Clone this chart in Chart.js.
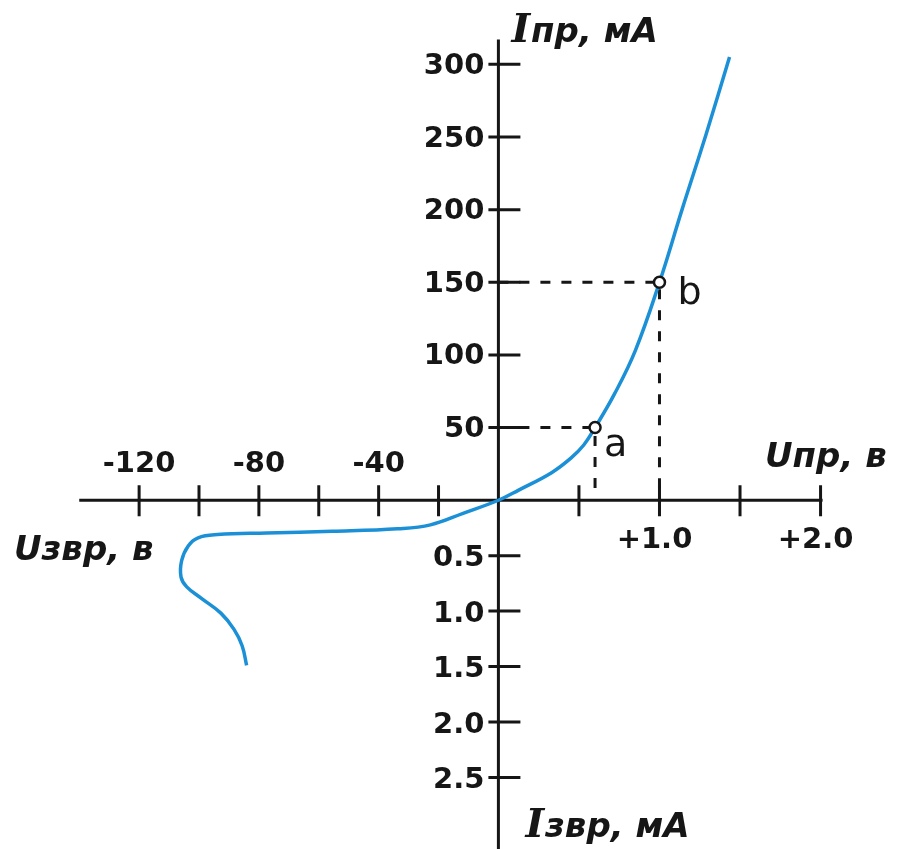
<!DOCTYPE html>
<html>
<head>
<meta charset="utf-8">
<script src="https://cdn.jsdelivr.net/npm/chart.js@4.4.1/dist/chart.umd.min.js"></script>
<style>
  html, body { margin: 0; padding: 0; background: #fff; }
  canvas { display: block; }
</style>
</head>
<body>
<canvas id="diodeChart" width="898" height="849"></canvas>
<script>
// I-V curve of the diode, from the end of the reverse branch up to the top
var voltage = [-84.1, -85.6, -88.3, -92.7, -99.2, -104.1, -106, -105.8, -103.6, -100.3,
  -93.8, -77.4, -55.5, -33.6, -22.7, -11.8, 0, 0.126, 0.33, 0.45, 0.53, 0.6,
  0.72, 0.85, 1.0, 1.14, 1.29, 1.435];
var current = [-1.489, -1.312, -1.165, -1.018, -0.885, -0.781, -0.693, -0.545, -0.412, -0.339,
  -0.31, -0.295, -0.28, -0.257, -0.222, -0.118, 0, 7, 19, 29, 38, 50,
  73, 103, 150, 200, 252, 305];

// marked points a and b
var markNames = ["a", "b"];
var markVoltage = [0.6, 1.0];
var markCurrent = [50, 150];

// axis ticks (reverse quadrants use their own scale)
var fwdVoltTicks = [0.5, 1.0, 1.5, 2.0];
var fwdVoltLabels = ["", "+1.0", "", "+2.0"];
var revVoltTicks = [-120, -100, -80, -60, -40, -20];
var revVoltLabels = ["-120", "", "-80", "", "-40", ""];
var fwdCurrTicks = [50, 100, 150, 200, 250, 300];
var fwdCurrLabels = ["50", "100", "150", "200", "250", "300"];
var revCurrTicks = [0.5, 1.0, 1.5, 2.0, 2.5];
var revCurrLabels = ["0.5", "1.0", "1.5", "2.0", "2.5"];

// one reverse volt / reverse mA expressed in forward units
var REV_V = 53.8;
var REV_I = 76.3;

function toX(v) { return v < 0 ? v / REV_V : v; }
function toY(i) { return i < 0 ? i * REV_I : i; }

var curvePts = voltage.map(function (v, k) { return { x: toX(v), y: toY(current[k]) }; });
var markPts = markVoltage.map(function (v, k) { return { x: toX(v), y: toY(markCurrent[k]) }; });

var INK = "#161616";
var SANS_BOLD = "bold 29px 'DejaVu Sans'";
var TITLE = "bold italic 34px 'DejaVu Sans'";

function drawTitle(ctx, x, y, first, rest) {
  var w = 0;
  if (first) {
    ctx.font = "bold italic 40px 'DejaVu Serif'";
    ctx.fillText(first, x, y);
    w = ctx.measureText(first).width + 1;
  }
  ctx.font = TITLE;
  ctx.fillText(rest, x + w, y);
}

var axesPlugin = {
  id: "crossAxes",
  beforeDatasetsDraw: function (chart) {
    var ctx = chart.ctx;
    var xs = chart.scales.x, ys = chart.scales.y;
    var x0 = xs.getPixelForValue(0), y0 = ys.getPixelForValue(0);
    ctx.save();
    ctx.strokeStyle = INK;
    ctx.fillStyle = INK;
    ctx.lineWidth = 3;
    ctx.lineCap = "butt";

    // main axes
    ctx.beginPath();
    ctx.moveTo(xs.getPixelForValue(toX(-140)), y0);
    ctx.lineTo(xs.getPixelForValue(toX(2.0)) + 2, y0);
    ctx.moveTo(x0, ys.getPixelForValue(317));
    ctx.lineTo(x0, chart.height);
    ctx.stroke();

    // x ticks
    ctx.beginPath();
    fwdVoltTicks.concat(revVoltTicks).forEach(function (v) {
      var px = xs.getPixelForValue(toX(v));
      ctx.moveTo(px, y0 - 15);
      ctx.lineTo(px, y0 + 16);
    });
    // y ticks
    fwdCurrTicks.forEach(function (c) {
      var py = ys.getPixelForValue(toY(c));
      ctx.moveTo(x0 - 10, py);
      ctx.lineTo(x0 + 22, py);
    });
    revCurrTicks.forEach(function (c) {
      var py = ys.getPixelForValue(toY(-c));
      ctx.moveTo(x0 - 10, py);
      ctx.lineTo(x0 + 22, py);
    });
    ctx.stroke();

    // tick labels
    ctx.font = SANS_BOLD;
    ctx.textBaseline = "middle";
    ctx.textAlign = "center";
    revVoltTicks.forEach(function (v, k) {
      if (revVoltLabels[k]) ctx.fillText(revVoltLabels[k], xs.getPixelForValue(toX(v)), y0 - 36);
    });
    fwdVoltTicks.forEach(function (v, k) {
      if (fwdVoltLabels[k]) ctx.fillText(fwdVoltLabels[k], xs.getPixelForValue(toX(v)) - 5, y0 + 40);
    });
    ctx.textAlign = "right";
    fwdCurrTicks.forEach(function (c, k) {
      ctx.fillText(fwdCurrLabels[k], x0 - 14, ys.getPixelForValue(toY(c)) + 2);
    });
    revCurrTicks.forEach(function (c, k) {
      ctx.fillText(revCurrLabels[k], x0 - 14, ys.getPixelForValue(toY(-c)) + 3);
    });

    // axis titles
    ctx.textAlign = "left";
    ctx.textBaseline = "alphabetic";
    drawTitle(ctx, x0 + 13, 42, "I", "пр, мА");
    drawTitle(ctx, x0 + 27, 837, "I", "звр, мА");
    drawTitle(ctx, 765, 467, "", "Uпр, в");
    drawTitle(ctx, 14, 560, "", "Uзвр, в");
    ctx.restore();
  },
  afterDatasetsDraw: function (chart) {
    var ctx = chart.ctx;
    var meta = chart.getDatasetMeta(0);
    var offs = [[9, 28], [18, 22]];
    ctx.save();
    ctx.fillStyle = INK;
    ctx.font = "38px 'DejaVu Sans'";
    ctx.textAlign = "left";
    ctx.textBaseline = "alphabetic";
    meta.data.forEach(function (pt, k) {
      ctx.fillText(markNames[k], pt.x + offs[k][0], pt.y + offs[k][1]);
    });
    ctx.restore();
  }
};

function dashPath(k) {
  return [
    { x: 0, y: toY(markCurrent[k]) },
    { x: toX(markVoltage[k]), y: toY(markCurrent[k]) },
    { x: toX(markVoltage[k]), y: 0 }
  ];
}

var ctx = document.getElementById("diodeChart").getContext("2d");
var diodeChart = new Chart(ctx, {
  type: "scatter",
  data: {
    datasets: [
      {
        data: markPts,
        order: 0,
        pointRadius: 5.5,
        pointBorderWidth: 2.5,
        pointBorderColor: INK,
        pointBackgroundColor: "#ffffff",
        showLine: false
      },
      {
        data: curvePts,
        order: 1,
        showLine: true,
        borderColor: "#1b90d6",
        borderWidth: 3.5,
        tension: 0.4,
        pointRadius: 0,
        fill: false
      },
      {
        data: dashPath(0),
        order: 2,
        showLine: true,
        borderColor: INK,
        borderWidth: 3,
        borderDash: [10, 11],
        pointRadius: 0,
        tension: 0
      },
      {
        data: dashPath(1),
        order: 2,
        showLine: true,
        borderColor: INK,
        borderWidth: 3,
        borderDash: [10, 11],
        pointRadius: 0,
        tension: 0
      }
    ]
  },
  options: {
    responsive: false,
    animation: false,
    layout: { padding: 0 },
    plugins: {
      legend: { display: false },
      tooltip: { enabled: false }
    },
    scales: {
      x: { type: "linear", display: false, min: -499.3 / 164, max: (898 - 499.3) / 164 },
      y: { type: "linear", display: false, min: -(849 - 501.7) / 1.481, max: 501.7 / 1.481 }
    }
  },
  plugins: [axesPlugin]
});
</script>
</body>
</html>
